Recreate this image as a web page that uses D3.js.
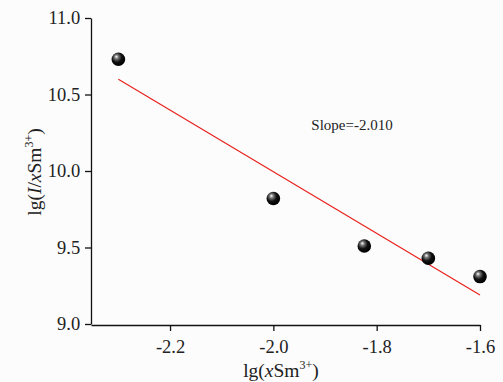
<!doctype html>
<html lang="en">
<head>
    <meta charset="utf-8">
    <script src="https://d3js.org/d3.v7.min.js"></script>
    <style>
        body { margin:0; background:#fcfcfc; }
        svg { display:block; }
        svg text { font-family:"Liberation Serif","Times New Roman",serif; }
    </style>
    <title>lg(I/xSm) vs lg(xSm)</title>
</head>
<body>
<script>
    // measured points
    var xVals = [-2.30, -2.00, -1.824, -1.70, -1.60];
    var yVals = [10.73, 9.82, 9.51, 9.43, 9.31];
    // linear fit line end points
    var fitX = [-2.30, -1.60];
    var fitY = [10.60, 9.19];
    var xTicks = [-2.2, -2.0, -1.8, -1.6];
    var yTicks = [9.0, 9.5, 10.0, 10.5, 11.0];
    var slopeLabel = "Slope=-2.010";

    var W = 503, H = 382;
    var mLeft = 91, mRight = 480, mTop = 18, mBottom = 325;

    var x = d3.scaleLinear().domain([-2.353, -1.6]).range([mLeft, mRight]);
    var y = d3.scaleLinear().domain([9.0, 11.0]).range([mBottom - 1, mTop]);

    var svg = d3.select("body").append("svg")
        .attr("width", W).attr("height", H);

    // sphere gradient
    var grad = svg.append("defs").append("radialGradient")
        .attr("id", "ball").attr("cx", "40%").attr("cy", "38%").attr("r", "60%")
        .attr("fx", "35%").attr("fy", "30%");
    grad.append("stop").attr("offset", "0%").attr("stop-color", "#ffffff");
    grad.append("stop").attr("offset", "25%").attr("stop-color", "#777");
    grad.append("stop").attr("offset", "60%").attr("stop-color", "#111");
    grad.append("stop").attr("offset", "100%").attr("stop-color", "#000");

    // axes
    var fmt = function(d) { return d3.format(".1f")(d).replace("\u2212", "-"); };
    var xAxis = svg.append("g")
        .attr("transform", "translate(0," + mBottom + ")")
        .call(d3.axisBottom(x).tickValues(xTicks).tickSize(6).tickSizeOuter(0).tickFormat(fmt));
    var yAxis = svg.append("g")
        .attr("transform", "translate(" + mLeft + ",0)")
        .call(d3.axisLeft(y).tickValues(yTicks).tickSize(6).tickSizeOuter(0).tickFormat(fmt));

    [xAxis, yAxis].forEach(function(g) {
        g.attr("font-family", "Liberation Serif, serif");
        g.selectAll("path, line").attr("stroke", "#111").attr("stroke-width", 1.3);
        g.selectAll("text").attr("fill", "#222").style("font-size", "18.5px");
    });
    xAxis.selectAll("text").attr("dy", "1.0em");
    yAxis.selectAll("text").attr("dx", "-0.1em");

    // fit line
    svg.append("line")
        .attr("x1", x(fitX[0])).attr("y1", y(fitY[0]))
        .attr("x2", x(fitX[1])).attr("y2", y(fitY[1]))
        .attr("stroke", "#e8211d").attr("stroke-width", 1.2);

    // points
    svg.selectAll("circle.pt")
        .data(xVals.map(function(v, i) { return [v, yVals[i]]; }))
        .enter().append("circle")
        .attr("class", "pt")
        .attr("cx", function(d) { return x(d[0]); })
        .attr("cy", function(d) { return y(d[1]); })
        .attr("r", 6.8)
        .attr("fill", "url(#ball)");

    // slope label
    svg.append("text")
        .attr("x", 352).attr("y", 130)
        .attr("text-anchor", "middle")
        .style("font-size", "15px").attr("fill", "#222")
        .text(slopeLabel);

    // x title
    var xt = svg.append("text")
        .attr("x", 281).attr("y", 377)
        .attr("text-anchor", "middle")
        .style("font-size", "19.5px").attr("fill", "#222");
    xt.append("tspan").text("lg(");
    xt.append("tspan").style("font-style", "italic").text("x");
    xt.append("tspan").text("Sm");
    xt.append("tspan").attr("dy", -8).style("font-size", "12px").text("3+");
    xt.append("tspan").attr("dy", 8).text(")");

    // y title
    var yt = svg.append("text")
        .attr("transform", "translate(41,172) rotate(-90)")
        .attr("text-anchor", "middle")
        .style("font-size", "19.5px").attr("fill", "#222");
    yt.append("tspan").text("lg(");
    yt.append("tspan").style("font-style", "italic").text("I");
    yt.append("tspan").text("/");
    yt.append("tspan").style("font-style", "italic").text("x");
    yt.append("tspan").text("Sm");
    yt.append("tspan").attr("dy", -8).style("font-size", "12px").text("3+");
    yt.append("tspan").attr("dy", 8).text(")");
</script>
</body>
</html>
